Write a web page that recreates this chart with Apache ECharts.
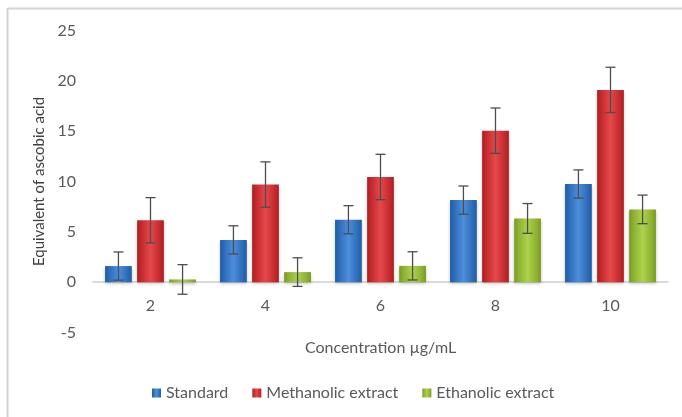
<!DOCTYPE html>
<html><head><meta charset="utf-8">
<script src="https://cdn.jsdelivr.net/npm/echarts@6/dist/echarts.min.js"></script>
<style>html,body{margin:0;padding:0;background:#fff}#c{width:682px;height:417px}</style>
</head><body><div id="c"></div>
<script>
const categories = ['2', '4', '6', '8', '10'];
const seriesNames = ['Standard', 'Methanolic extract', 'Ethanolic extract'];
const standard = [1.6, 4.2, 6.2, 8.15, 9.75];
const methanolic = [6.15, 9.7, 10.45, 15.05, 19.1];
const ethanolic = [0.27, 1.0, 1.62, 6.33, 7.23];
const standardErr = [1.4, 1.4, 1.4, 1.4, 1.4];
const methanolicErr = [2.25, 2.25, 2.25, 2.25, 2.25];
const ethanolicErr = [1.47, 1.42, 1.4, 1.48, 1.42];
const yTicks = { min: -5, max: 25, interval: 5 };

const FONT = 'Lato';
const barCategoryGap = 0.21, barGapRatio = 0.2;
const colors = [
  ['#1f5ca3', '#4d8fdc', '#2c6bb8'],
  ['#a91f22', '#e4484b', '#c42a2d'],
  ['#789a20', '#aed24e', '#8cb030']
];
function grad(c) {
  return new echarts.graphic.LinearGradient(0, 0, 1, 0, [
    { offset: 0, color: c[0] }, { offset: 0.15, color: c[2] },
    { offset: 0.5, color: c[1] }, { offset: 0.85, color: c[2] }, { offset: 1, color: c[0] }
  ]);
}
const values = [standard, methanolic, ethanolic];
const errs = [standardErr, methanolicErr, ethanolicErr];

const series = [];
values.forEach((v, k) => {
  series.push({
    name: seriesNames[k], type: 'bar', data: v,
    barGap: (barGapRatio * 100) + '%', barCategoryGap: (barCategoryGap * 100) + '%',
    itemStyle: { color: grad(colors[k]), shadowColor: 'rgba(0,0,0,0.25)', shadowBlur: 3, shadowOffsetY: 2 }
  });
});
values.forEach((v, k) => {
  series.push({
    type: 'custom', name: seriesNames[k] + ' err', silent: true, z: 10,
    data: v.map((val, i) => [i, val - errs[k][i], val + errs[k][i]]),
    renderItem: function (params, api) {
      const i = api.value(0);
      const band = api.size([1, 0])[0];
      const w = band * (1 - barCategoryGap) / (3 + 2 * barGapRatio);
      const off = (k - 1) * w * (1 + barGapRatio);
      const lo = api.coord([i, api.value(1)]);
      const hi = api.coord([i, api.value(2)]);
      const x = lo[0] + off;
      const cap = 5;
      const st = { stroke: '#4d4d4d', lineWidth: 1.3 };
      return { type: 'group', children: [
        { type: 'line', shape: { x1: x, y1: lo[1], x2: x, y2: hi[1] }, style: st },
        { type: 'line', shape: { x1: x - cap, y1: lo[1], x2: x + cap, y2: lo[1] }, style: st },
        { type: 'line', shape: { x1: x - cap, y1: hi[1], x2: x + cap, y2: hi[1] }, style: st }
      ]};
    }
  });
});

const chart = echarts.init(document.getElementById('c'), null, { renderer: 'canvas' });
chart.setOption({
  animation: false,
  backgroundColor: '#fff',
  textStyle: { fontFamily: FONT },
  grid: { left: 93, right: 14, top: 30.5, bottom: 84.5, containLabel: false },
  legend: {
    data: seriesNames, bottom: 11, left: 147, itemWidth: 9, itemHeight: 9, itemGap: 24,
    textStyle: { color: '#595959', fontSize: 16, fontFamily: FONT },
    icon: 'rect'
  },
  xAxis: {
    type: 'category', data: categories,
    axisLine: { onZero: true, lineStyle: { color: '#d0d0d0', width: 1.5 } },
    axisTick: { show: false },
    axisLabel: { color: '#595959', fontSize: 16, margin: -35, fontFamily: FONT },
    name: 'Concentration µg/mL', nameLocation: 'middle', nameGap: 7,
    nameTextStyle: { color: '#595959', fontSize: 16, fontFamily: FONT }
  },
  yAxis: {
    type: 'value', min: yTicks.min, max: yTicks.max, interval: yTicks.interval,
    splitLine: { show: false }, axisLine: { show: false }, axisTick: { show: false },
    axisLabel: { color: '#595959', fontSize: 16, margin: 17, fontFamily: FONT },
    name: 'Equivalent of ascobic acid', nameLocation: 'middle', nameGap: 43,
    nameTextStyle: { color: '#404040', fontSize: 15, fontFamily: FONT }
  },
  graphic: [
    { type: 'line', shape: { x1: 7.5, y1: 8.5, x2: 682, y2: 8.5 }, style: { stroke: '#d4d4d4', lineWidth: 2 } },
    { type: 'line', shape: { x1: 7.5, y1: 8, x2: 7.5, y2: 417 }, style: { stroke: '#d4d4d4', lineWidth: 2 } }
  ],
  series: series
});
</script></body></html>
